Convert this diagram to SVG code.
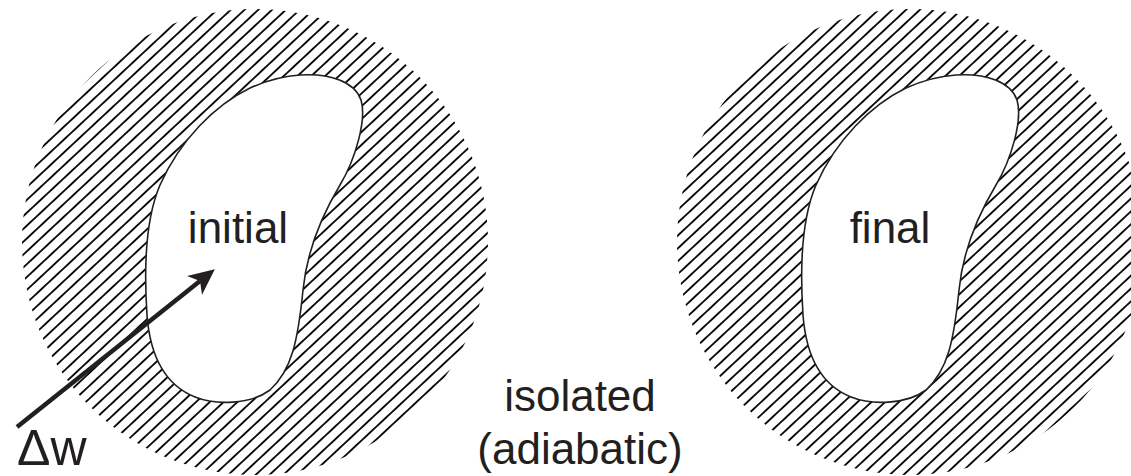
<svg xmlns="http://www.w3.org/2000/svg" width="1131" height="476" viewBox="0 0 1131 476">
<style>
.blob{fill:#fff;stroke:#231f20;stroke-width:1.6}
.lbl{font-family:"Liberation Sans",Arial,sans-serif;fill:#231f20;text-anchor:middle}
.arrow{stroke:#231f20;stroke-width:4.5;fill:none}
</style>
<defs>
<pattern id="hatch" patternUnits="userSpaceOnUse" width="9.4" height="9.4" patternTransform="rotate(-43)">
<line x1="-1" y1="4.7" x2="10.4" y2="4.7" stroke="#000" stroke-width="1.8"/>
</pattern>
<path id="blobShape" d="M300,75 C330,73 355,82 361,100 C367,120 355,160 340,185 C322,215 307,250 303,290 C298,340 292,370 270,390 C250,405 215,405 195,397 C165,385 150,355 147,315 C144,270 145,220 160,185 C180,140 215,105 250,88 C270,79 285,76 300,75 Z"/>
<marker id="head" markerUnits="userSpaceOnUse" viewBox="0 0 28 26" markerWidth="28" markerHeight="26" refX="8" refY="13" orient="auto">
<path d="M27,13 L1,1 L8,13 L1,25 Z" fill="#231f20"/>
</marker>
</defs>
<g id="initial-state">
<circle cx="255" cy="242" r="233" fill="url(#hatch)"/>
<use href="#blobShape" class="blob"/>
<text class="lbl" x="238" y="243" font-size="44">initial</text>
</g>
<g id="final-state">
<circle cx="910" cy="242" r="233" fill="url(#hatch)"/>
<use href="#blobShape" class="blob" transform="translate(656,0)"/>
<text class="lbl" x="890" y="243" font-size="44">final</text>
</g>
<g id="isolated-label">
<text class="lbl" x="580" y="411" font-size="44">isolated</text>
<text class="lbl" x="580" y="464" font-size="44">(adiabatic)</text>
</g>
<g id="work-label">
<text x="17" y="465" font-size="50" font-family="Liberation Sans, Arial, sans-serif" fill="#231f20">Δw</text>
</g>
<g id="connectors">
<line class="arrow" x1="17" y1="427" x2="200" y2="281" marker-end="url(#head)"/>
</g>
</svg>
